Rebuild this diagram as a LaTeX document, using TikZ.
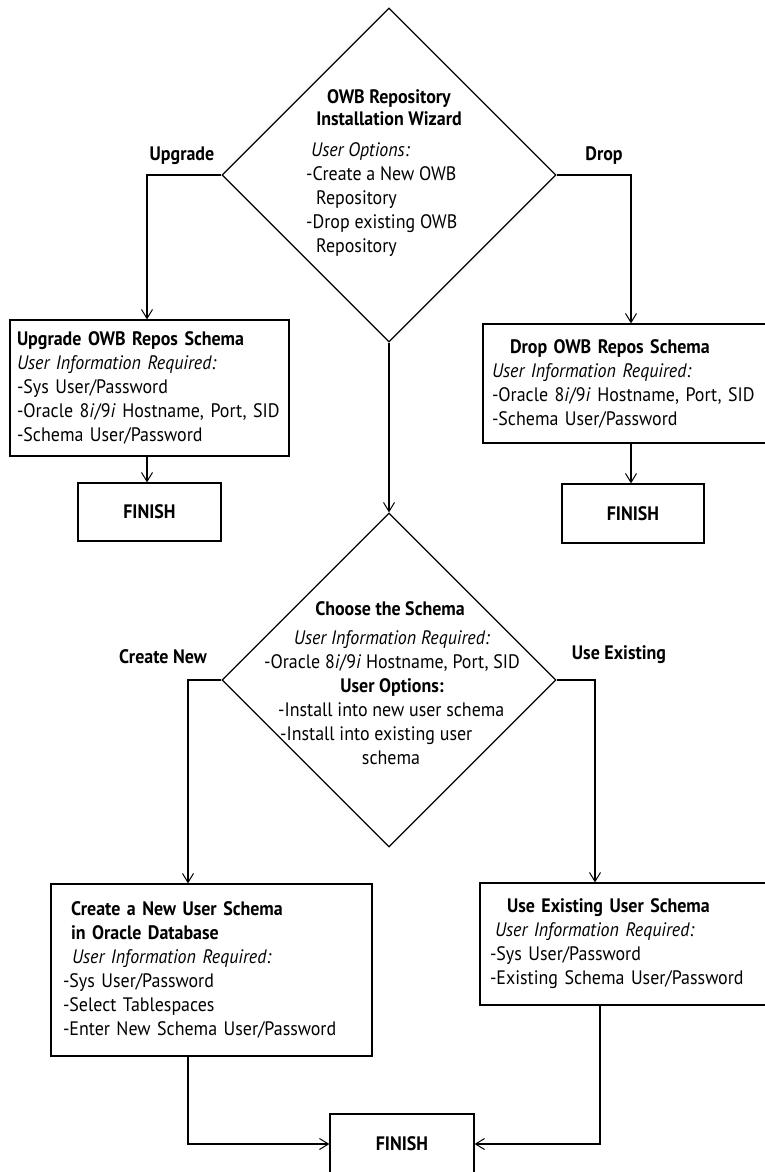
\documentclass[tikz,border=0pt]{standalone}
\usepackage{fontspec}
\setmainfont{PT Sans}[FakeStretch=0.92]
\usetikzlibrary{shapes.geometric,arrows.meta}
\tikzset{
  base/.style={inner sep=0pt, font=\fontsize{19.5}{24}\selectfont},
  boldtxt/.style={base, font=\fontsize{19.5}{24}\selectfont\bfseries},
  box/.style={base, draw, line width=1.2pt, rectangle, align=left},
  finbox/.style={boldtxt, draw, line width=1.2pt, rectangle, align=center},
  dia/.style={draw, diamond, line width=1.2pt, inner sep=0pt, minimum width=334pt, minimum height=334pt},
  arr/.style={line width=1.2pt, -{Straight Barb[length=9pt,width=11pt,line width=1pt]}}
}
\begin{document}
\begin{tikzpicture}[x=1pt,y=-1pt]
\useasboundingbox (0,0) rectangle (765,1172);
\clip (0,0) rectangle (765,1172);

% top diamond
\node[dia] (d1) at (389,175) {};
\node[boldtxt, align=center, font=\fontsize{19.5}{22}\selectfont\bfseries] (d1title) at (389,108) {OWB Repository\\Installation Wizard};
\node[base, align=left, anchor=west] (d1opts) at (306,200) {\hspace*{5pt}\textit{User Options:}\\-Create a New OWB\\\hspace*{10pt}Repository\\-Drop existing OWB\\\hspace*{10pt}Repository};

\node[boldtxt] (lupg) at (182,156) {Upgrade};
\node[boldtxt] (ldrop) at (604,156) {Drop};

% upgrade branch
\node[box, text width=265pt, inner xsep=7pt, minimum height=136pt] (upbox) at (149.5,388)
 {\textbf{Upgrade OWB Repos Schema}\\
  \textit{User Information Required:}\\
  -Sys User/Password\\
  -Oracle 8\textit{i}/9\textit{i} Hostname, Port, SID\\
  -Schema User/Password};
\node[finbox, text width=143pt, minimum height=58pt] (fin1) at (149.5,512) {FINISH};

% drop branch
\node[box, text width=271pt, inner xsep=9pt, minimum height=119pt] (dropbox) at (627.5,383.5)
 {\hspace*{18pt}\textbf{Drop OWB Repos Schema}\\
  \textit{User Information Required:}\\
  -Oracle 8\textit{i}/9\textit{i} Hostname, Port, SID\\
  -Schema User/Password};
\node[finbox, text width=142pt, minimum height=59pt] (fin2) at (633,513.5) {FINISH};

% second diamond
\node[dia] (d2) at (389,680) {};
\node[boldtxt] (d2title) at (390,609) {Choose the Schema};
\node[base, align=center] (d2info) at (392,663.5) {\textit{User Information Required:}\\-Oracle 8\textit{i}/9\textit{i} Hostname, Port, SID\\\textbf{User Options:}};
\node[base, align=left, anchor=west] (d2opts) at (278,723.5) {-Install into new user schema\\\hspace*{2pt}-Install into existing user};
\node[base] (d2last) at (391,758) {schema};

\node[boldtxt] (lcreate) at (163,657) {Create New};
\node[boldtxt] (luse) at (619,655) {Use Existing};

% create new branch
\node[box, text width=297pt, inner xsep=12pt, minimum height=172pt] (createbox) at (211.5,970)
 {\hspace*{8pt}\textbf{Create a New User Schema}\\
  \hspace*{8pt}\textbf{in Oracle Database}\\
  \hspace*{9pt}\textit{User Information Required:}\\
  -Sys User/Password\\
  -Select Tablespaces\\
  -Enter New Schema User/Password};

% use existing branch
\node[box, text width=272pt, inner xsep=10pt, minimum height=122pt] (usebox) at (626,944)
 {\hspace*{17pt}\textbf{Use Existing User Schema}\\
  \hspace*{5pt}\textit{User Information Required:}\\
  -Sys User/Password\\
  -Existing Schema User/Password};

\node[finbox, text width=144pt, minimum height=60pt] (fin3) at (402,1144) {FINISH};

% connectors
\coordinate (upc) at (147,175);
\draw[arr] (d1.west) -- (upc) -- (upc |- upbox.north);
\draw[arr] (upc |- upbox.south) -- (upc |- fin1.north);
\coordinate (dropc) at (631,175);
\draw[arr] (d1.east) -- (dropc) -- (dropc |- dropbox.north);
\draw[arr] (dropc |- dropbox.south) -- (dropc |- fin2.north);
\draw[arr] (d1.south) -- (d2.north);
\coordinate (crc) at (188,680);
\draw[arr] (d2.west) -- (crc) -- (crc |- createbox.north);
\coordinate (usc) at (595,680);
\draw[arr] (d2.east) -- (usc) -- (usc |- usebox.north);
\coordinate (usb) at (600,1005);
\draw[arr] (crc |- createbox.south) -- (crc |- fin3.west) -- (fin3.west);
\draw[arr] (usb |- usebox.south) -- (usb |- fin3.east) -- (fin3.east);
\end{tikzpicture}
\end{document}
